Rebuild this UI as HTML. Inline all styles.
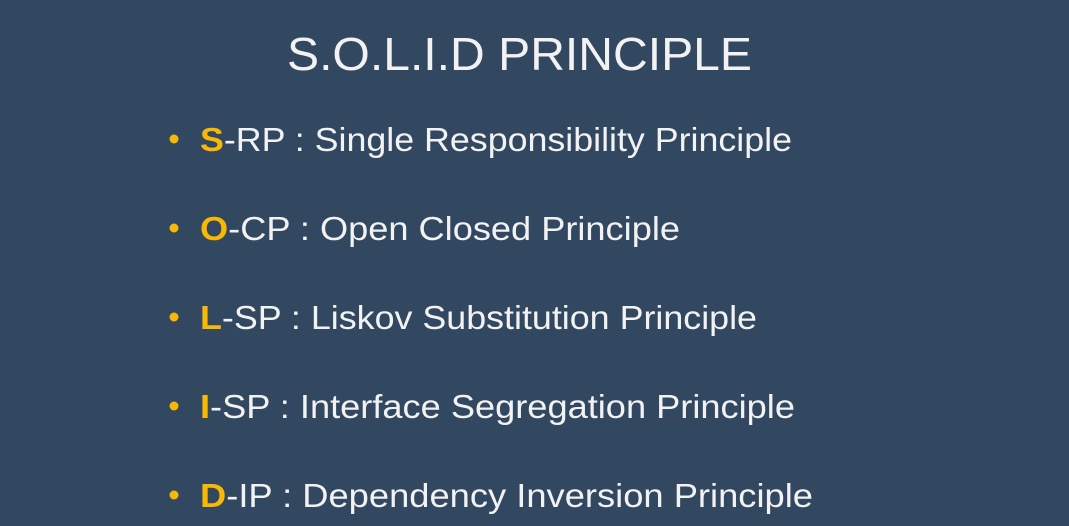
<!DOCTYPE html>
<html><head><meta charset="utf-8"><style>
html,body{margin:0;padding:0;background:#324860;}
svg{display:block;}
text{font-family:"Liberation Sans",sans-serif;fill:#f2f2f2;}
.y{fill:#f8b806;font-weight:bold;}
</style></head><body>
<svg width="1069" height="526" viewBox="0 0 1069 526">
<rect width="1069" height="526" fill="#324860"/>
<text x="287" y="70" font-size="46" textLength="465" lengthAdjust="spacingAndGlyphs">S.O.L.I.D PRINCIPLE</text>
<g font-size="33">
<circle cx="174" cy="139" r="4.5" fill="#f8b806"/>
<text x="200" y="151" textLength="592" lengthAdjust="spacingAndGlyphs"><tspan class="y">S</tspan>-RP : Single Responsibility Principle</text>
<circle cx="174" cy="228" r="4.5" fill="#f8b806"/>
<text x="200" y="240" textLength="480" lengthAdjust="spacingAndGlyphs"><tspan class="y">O</tspan>-CP : Open Closed Principle</text>
<circle cx="174" cy="317" r="4.5" fill="#f8b806"/>
<text x="200" y="329" textLength="557" lengthAdjust="spacingAndGlyphs"><tspan class="y">L</tspan>-SP : Liskov Substitution Principle</text>
<circle cx="174" cy="406" r="4.5" fill="#f8b806"/>
<text x="200" y="418" textLength="595" lengthAdjust="spacingAndGlyphs"><tspan class="y">I</tspan>-SP : Interface Segregation Principle</text>
<circle cx="174" cy="495" r="4.5" fill="#f8b806"/>
<text x="200" y="507" textLength="613" lengthAdjust="spacingAndGlyphs"><tspan class="y">D</tspan>-IP : Dependency Inversion Principle</text>
</g>
</svg>
</body></html>
